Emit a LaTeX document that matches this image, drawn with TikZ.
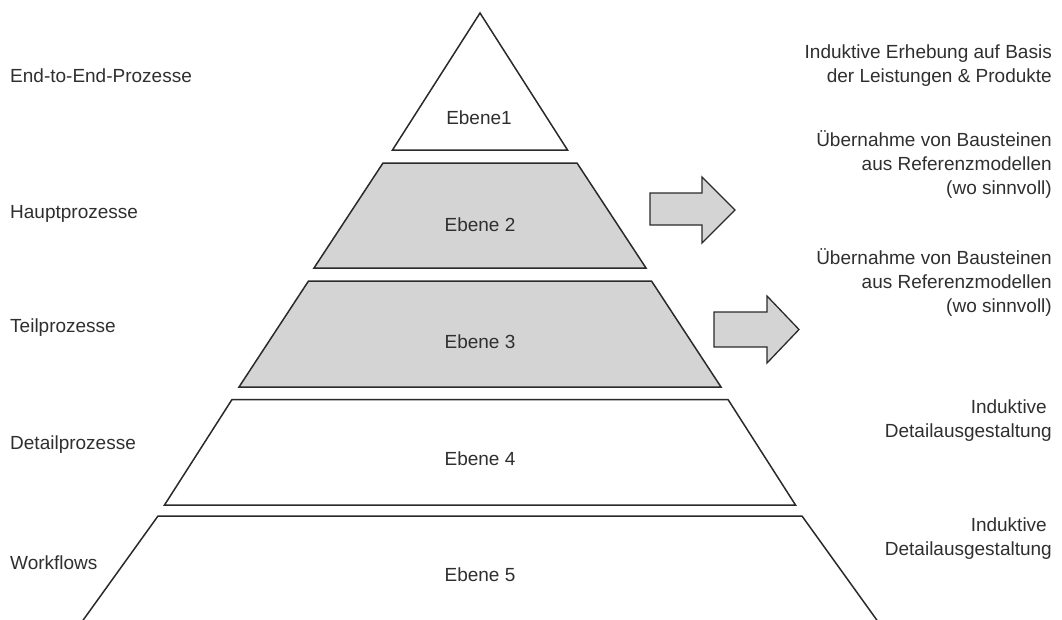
\documentclass[tikz,border=0pt]{standalone}
\usepackage{fontspec}
\setmainfont{Liberation Sans}
\definecolor{linegray}{HTML}{2A2A2A}
\definecolor{boxgray}{HTML}{D4D4D4}
\definecolor{textgray}{HTML}{2F2F2F}
\begin{document}
\begin{tikzpicture}[x=1pt,y=-1pt,
  layer/.style={draw=linegray, line width=1.5pt, line join=miter},
  shadedlayer/.style={layer, fill=boxgray},
  plainlayer/.style={layer, fill=white},
  lbl/.style={font=\fontsize{19}{24}\selectfont, text=textgray, inner sep=0pt},
  blockarrow/.style={draw=linegray, line width=1.3pt, fill=boxgray, line join=miter}
]
\useasboundingbox (0,0) rectangle (1062,619);

% pyramid, top to bottom
\draw[plainlayer]  (480,13) -- (567.5,150) -- (392.5,150) -- cycle;
\draw[shadedlayer] (383,163) -- (577,163) -- (646,268) -- (314,268) -- cycle;
\draw[shadedlayer] (308.5,281) -- (651.5,281) -- (721,387) -- (239,387) -- cycle;
\draw[plainlayer]  (232,399.5) -- (728,399.5) -- (795.5,505) -- (164.5,505) -- cycle;
\draw[plainlayer]  (76,630) -- (158,516) -- (802,516) -- (884,630);

\node[lbl, anchor=base] (e1) at (479,124) {Ebene1};
\node[lbl, anchor=base] (e2) at (480,231) {Ebene 2};
\node[lbl, anchor=base] (e3) at (480,348) {Ebene 3};
\node[lbl, anchor=base] (e4) at (480,465) {Ebene 4};
\node[lbl, anchor=base] (e5) at (480,581) {Ebene 5};

% level names
\node[lbl, anchor=base west] (l1) at (10,82)  {End-to-End-Prozesse};
\node[lbl, anchor=base west] (l2) at (10,218) {Hauptprozesse};
\node[lbl, anchor=base west] (l3) at (10,332) {Teilprozesse};
\node[lbl, anchor=base west] (l4) at (10,449) {Detailprozesse};
\node[lbl, anchor=base west] (l5) at (10,569) {Workflows};

% approach per level
\node[lbl, anchor=base east, align=right] (r1) at (1052,82)
  {Induktive Erhebung auf Basis\\der Leistungen \& Produkte};
\node[lbl, anchor=base east, align=right] (r2) at (1052,194)
  {Übernahme von Bausteinen\\aus Referenzmodellen\\(wo sinnvoll)};
\node[lbl, anchor=base east, align=right] (r3) at (1052,312)
  {Übernahme von Bausteinen\\aus Referenzmodellen\\(wo sinnvoll)};
\node[lbl, anchor=base east, align=right] (r4) at (1052,437)
  {Induktive\hspace*{5pt}\\Detailausgestaltung};
\node[lbl, anchor=base east, align=right] (r5) at (1052,555)
  {Induktive\hspace*{5pt}\\Detailausgestaltung};

% block arrows
\draw[blockarrow] (650,193) -- (702,193) -- (702,177) -- (735,210) -- (702,243)
  -- (702,225) -- (650,225) -- cycle;
\draw[blockarrow] (714,312) -- (767,312) -- (767,296) -- (799,329.5) -- (767,363)
  -- (767,347) -- (714,347) -- cycle;
\end{tikzpicture}
\end{document}
